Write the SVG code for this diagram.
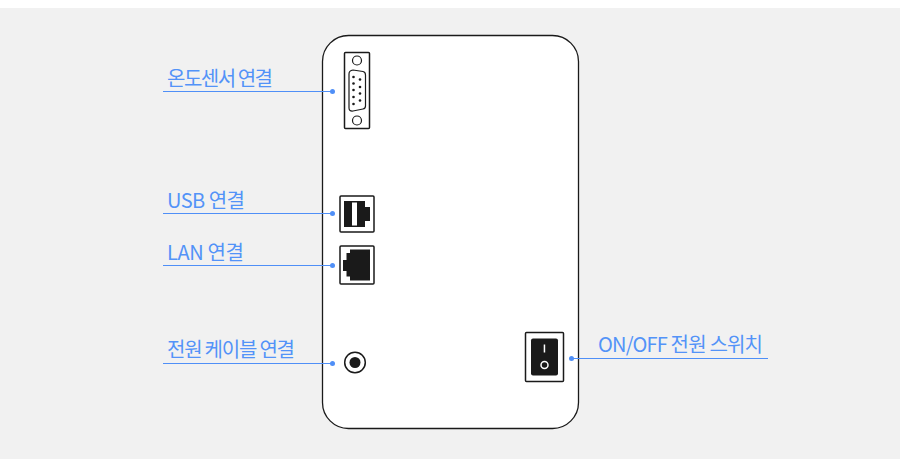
<svg xmlns="http://www.w3.org/2000/svg" width="900" height="469" viewBox="0 0 900 469">
<style>
.lbl{font-family:"Noto Sans CJK KR","Noto Sans",sans-serif;font-size:20px;fill:#5393f8}
.ln{stroke:#4f8ff7;stroke-width:1;fill:none}
.dot{fill:#4f8ff7}
.o{fill:#fff;stroke:#1a1a1a;stroke-width:1.5}
.s{fill:#fff;stroke:#1a1a1a;stroke-width:1.2}
.k{fill:#1a1a1a}
</style>
<rect width="900" height="469" fill="#fff"/>
<rect x="0" y="8" width="900" height="451" fill="#f1f1f1"/>
<rect id="panel" x="322.5" y="35.5" width="256" height="393" rx="26" fill="#fff" stroke="#1a1a1a" stroke-width="1.3"/>
<g id="connectors">
<path class="ln" d="M163 91.500H332.500M163 213.500H332.500M163 265.500H332.500M163 363.500H332.500M571.500 358.500H768"/>
<circle class="dot" cx="332.500" cy="91.500" r="2.500"/>
<circle class="dot" cx="332.500" cy="213.500" r="2.500"/>
<circle class="dot" cx="332.500" cy="265.500" r="2.500"/>
<circle class="dot" cx="332.500" cy="363.500" r="2.500"/>
<circle class="dot" cx="571.500" cy="358.500" r="2.500"/>
</g>
<g id="serial-port">
<rect class="o" x="344.500" y="52.500" width="25" height="76" rx="1"/>
<circle class="s" cx="357" cy="60.500" r="4.500"/>
<circle class="s" cx="357" cy="120.500" r="4.500"/>
<path class="s" d="M349 74Q349 70.500 353 70L363 71.500Q365.500 72 365.500 75V106Q365.500 108.500 363 109L353 111Q349 111.500 349 108Z"/>
<g class="k">
<circle cx="353.500" cy="77" r="1.300"/><circle cx="353.500" cy="83.500" r="1.300"/><circle cx="353.500" cy="90" r="1.300"/><circle cx="353.500" cy="97" r="1.300"/><circle cx="353.500" cy="104" r="1.300"/>
<circle cx="360" cy="79.500" r="1.300"/><circle cx="360" cy="87" r="1.300"/><circle cx="360" cy="93.500" r="1.300"/><circle cx="360" cy="100.500" r="1.300"/>
</g>
</g>
<g id="usb-port">
<rect class="o" x="340" y="196" width="34" height="36" rx="1"/>
<path class="k" d="M344 201H365V207H370V221H365V227H344Z"/>
<rect x="352" y="202.500" width="5" height="23" fill="#fff"/>
</g>
<g id="lan-port">
<rect class="o" x="340" y="246" width="34" height="38" rx="1"/>
<path class="k" d="M350 249.500H370V280.500H350V276.500H346.500V271H343V260H346.500V253H350Z"/>
</g>
<g id="power-jack">
<circle cx="355" cy="362.500" r="10.300" fill="#fff" stroke="#1a1a1a" stroke-width="1.500"/>
<circle class="k" cx="355" cy="362.500" r="5.500"/>
</g>
<g id="switch">
<rect class="o" x="525.500" y="332.500" width="38" height="49" rx="1"/>
<rect class="k" x="531" y="338.500" width="27" height="37" rx="2"/>
<rect x="543.700" y="344.500" width="1.500" height="8" fill="#fff"/>
<circle cx="544.500" cy="365" r="3.500" fill="none" stroke="#fff" stroke-width="1.500"/>
</g>
<g id="labels">
<text class="lbl" x="167" y="85.500" textLength="106">온도센서 연결</text>
<text class="lbl" x="167" y="207.500" textLength="78">USB 연결</text>
<text class="lbl" x="167" y="259.500" textLength="77">LAN 연결</text>
<text class="lbl" x="167" y="356.500" textLength="128">전원 케이블 연결</text>
<text class="lbl" x="598" y="351.500" textLength="165">ON/OFF 전원 스위치</text>
</g>
</svg>
